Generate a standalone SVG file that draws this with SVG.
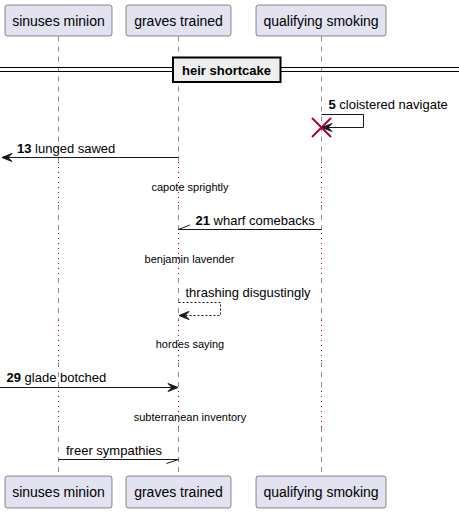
<svg xmlns="http://www.w3.org/2000/svg" width="459" height="513" viewBox="0 0 459 513">
<style>
.pbox{fill:#E2E2F0;stroke:#181818;stroke-width:0.5}
.ptxt{font-family:"Liberation Sans",Arial,sans-serif;font-size:14px;fill:#000;text-anchor:middle}
.life{stroke:#181818;stroke-width:0.5;stroke-dasharray:5,5;fill:none}
.delay{stroke:#A80036;stroke-width:1;stroke-dasharray:1,4;fill:none}
.msg{stroke:#181818;stroke-width:1;fill:none}
.dmsg{stroke:#181818;stroke-width:1;fill:none;stroke-dasharray:2,2}
.head{fill:#181818;stroke:#181818;stroke-width:1}
.mtxt{font-family:"Liberation Sans",Arial,sans-serif;font-size:13px;fill:#000}
.num{font-weight:bold}
.dtxt{font-family:"Liberation Sans",Arial,sans-serif;font-size:11px;fill:#000;text-anchor:middle}
</style>
<rect width="459" height="513" fill="#FFFFFF"/>
<g id="lifelines">
<path class="life" d="M58.5,36.5V162 M58.5,205V233 M58.5,278V320 M58.5,362V391 M58.5,427V476"/>
<path class="life" d="M178.5,36.5V162 M178.5,205V233 M178.5,278V320 M178.5,362V391 M178.5,427V476"/>
<path class="life" d="M321.5,36.5V162 M321.5,205V233 M321.5,278V320 M321.5,362V391 M321.5,427V476"/>
<path class="delay" d="M58.5,162V205 M58.5,233V278 M58.5,320V362 M58.5,391V427"/>
<path class="delay" d="M178.5,162V205 M178.5,233V278 M178.5,320V362 M178.5,391V427"/>
<path class="delay" d="M321.5,162V205 M321.5,233V278 M321.5,320V362 M321.5,391V427"/>
</g>
<g id="divider">
<line x1="0" y1="67.5" x2="459" y2="67.5" stroke="#000" stroke-width="1.2"/>
<line x1="0" y1="71.5" x2="459" y2="71.5" stroke="#000" stroke-width="1.2"/>
<rect x="173" y="57.5" width="107.5" height="24.5" fill="#EEEEEE" stroke="#000" stroke-width="2"/>
<text x="226.5" y="74.5" font-family="Liberation Sans,Arial,sans-serif" font-size="13" font-weight="bold" text-anchor="middle">heir shortcake</text>
</g>
<g id="p-sinuses">
<rect class="pbox" x="5" y="5" width="107" height="31" rx="2.5"/>
<text class="ptxt" x="58.5" y="26">sinuses minion</text>
<rect class="pbox" x="5" y="476" width="107" height="32" rx="2.5"/>
<text class="ptxt" x="58.5" y="497">sinuses minion</text>
</g>
<g id="p-graves">
<rect class="pbox" x="126" y="5" width="105" height="31" rx="2.5"/>
<text class="ptxt" x="178.5" y="26">graves trained</text>
<rect class="pbox" x="126" y="476" width="105" height="32" rx="2.5"/>
<text class="ptxt" x="178.5" y="497">graves trained</text>
</g>
<g id="p-qualifying">
<rect class="pbox" x="256" y="5" width="130" height="31" rx="2.5"/>
<text class="ptxt" x="321" y="26">qualifying smoking</text>
<rect class="pbox" x="256" y="476" width="130" height="32" rx="2.5"/>
<text class="ptxt" x="321" y="497">qualifying smoking</text>
</g>
<g id="connectors">
<polyline class="msg" points="321.5,114.5 363.5,114.5 363.5,127.5 322,127.5"/>
<polygon class="head" points="322,127.5 332,123.5 328,127.5 332,131.5"/>
<text class="mtxt" x="328.5" y="109"><tspan class="num">5</tspan> cloistered navigate</text>
<g stroke="#A80036" stroke-width="2"><line x1="312" y1="118" x2="331" y2="137"/><line x1="331" y1="118" x2="312" y2="137"/></g>

<line class="msg" x1="178.5" y1="157.5" x2="2" y2="157.5"/>
<polygon class="head" points="2,157.5 12,153.5 8,157.5 12,161.5"/>
<text class="mtxt" x="17" y="153"><tspan class="num">13</tspan> lunged sawed</text>

<text class="dtxt" x="190" y="191">capote sprightly</text>

<line class="msg" x1="321.5" y1="229.5" x2="178.5" y2="229.5"/>
<line class="msg" x1="178.5" y1="229.5" x2="190" y2="225"/>
<text class="mtxt" x="195.5" y="225"><tspan class="num">21</tspan> wharf comebacks</text>

<text class="dtxt" x="189.5" y="263">benjamin lavender</text>

<polyline class="dmsg" points="178.5,302.5 220.5,302.5 220.5,315.5 179,315.5"/>
<polygon class="head" points="179,315.5 189,311.5 185,315.5 189,319.5"/>
<text class="mtxt" x="185.5" y="297">thrashing disgustingly</text>

<text class="dtxt" x="190" y="348">hordes saying</text>

<line class="msg" x1="0" y1="387.5" x2="178" y2="387.5"/>
<polygon class="head" points="178,387.5 168,383.5 172,387.5 168,391.5"/>
<text class="mtxt" x="6.5" y="382"><tspan class="num">29</tspan> glade botched</text>

<text class="dtxt" x="190" y="421">subterranean inventory</text>

<line class="msg" x1="58.5" y1="459.5" x2="178.5" y2="459.5"/>
<line class="msg" x1="178.5" y1="459.5" x2="166.5" y2="463.5"/>
<text class="mtxt" x="66" y="454.5">freer sympathies</text>
</g>
</svg>
